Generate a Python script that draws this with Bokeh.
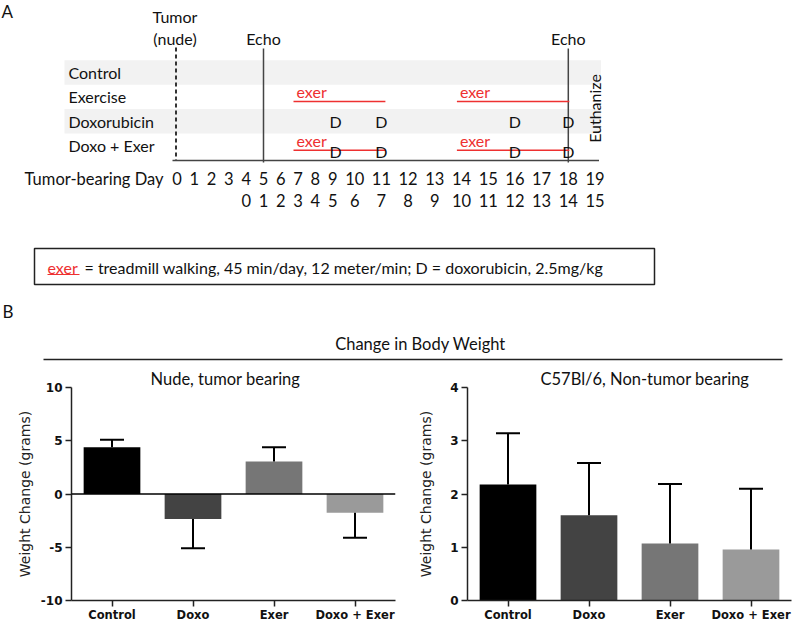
import math
from bokeh.plotting import figure
from bokeh.models import Range1d, Span, FactorRange, FixedTicker
from bokeh.layouts import column, row
from bokeh.embed import file_html
from bokeh.resources import INLINE
from bokeh.core.properties import value

# ---------------- data ----------------
groups = ["Control", "Exercise", "Doxorubicin", "Doxo + Exer"]
group_exer = [False, True, False, True]
group_doxo = [False, False, True, True]
tumor_days = list(range(0, 20))
treat_offset = 4                      # treatment day 0 = tumor-bearing day 4
treat_days = list(range(0, 16))
tumor_inject_day = 0
echo_days = [5, 18]
exer_periods = [(7, 11), (14, 18)]
doxo_days = [9, 11, 16, 18]
euthanize_day = 19
legend_text = "= treadmill walking, 45 min/day, 12 meter/min; D = doxorubicin, 2.5mg/kg"

bar_groups = ["Control", "Doxo", "Exer", "Doxo + Exer"]
nude_mean = [4.40, -2.35, 3.05, -1.75]
nude_err = [0.70, 2.75, 1.35, 2.35]
c57_mean = [2.18, 1.60, 1.07, 0.96]
c57_err = [0.96, 0.98, 1.12, 1.14]
nude_ticks = [-10, -5, 0, 5, 10]
c57_ticks = [0, 1, 2, 3, 4]

# ---------------- styles ----------------
FONT = value("Lato")
AX_FONT = "DejaVu Sans"
RED = "#ee3030"
BAR_COLORS = ["#000000", "#434343", "#767676", "#9a9a9a"]
BAND = "#f2f2f2"

# layout of the schematic (text-width based spacing of the day labels)
X0, CW, GAP = 176.5, 9.4, 7.9
ROW0, ROW_H = 72.0, 24.4
BASE_Y = 160.0
TOP_H = 368


def day_positions(days):
    xs = [X0]
    for a, b in zip(days[:-1], days[1:]):
        xs.append(xs[-1] + (len(str(a)) + len(str(b))) * CW / 2 + GAP)
    return dict(zip(days, xs))


DX = day_positions(tumor_days)
row_y = [ROW0 + i * ROW_H for i in range(len(groups))]

# ---------------- panel A (schematic) ----------------
top = figure(width=800, height=TOP_H, x_range=Range1d(0, 800), y_range=Range1d(TOP_H, 0),
             output_backend="svg", toolbar_location=None, x_axis_type=None, y_axis_type=None,
             min_border=0, min_border_left=0, min_border_right=0, min_border_top=0,
             min_border_bottom=0)
top.grid.visible = False
top.outline_line_color = None


def txt(fig, xs, ys, texts, size="16px", align="left", base="middle", color="#111111",
        angle=0, font=FONT, style="normal"):
    fig.text(x=xs, y=ys, text=texts, text_font=font, text_font_size=size,
             text_align=align, text_baseline=base, text_color=color, angle=angle,
             text_font_style=style)


# shaded bands (alternate rows)
band_rows = [y for i, y in enumerate(row_y) if i % 2 == 0]
top.quad(left=[64] * len(band_rows), right=[DX[euthanize_day] + 6] * len(band_rows),
         top=[y - ROW_H / 2 for y in band_rows], bottom=[y + ROW_H / 2 for y in band_rows],
         fill_color=BAND, line_color=None)

# panel letter
txt(top, [1], [0], ["A"], size="17px", base="top")

# row labels
txt(top, [68] * len(groups), row_y, groups)

# tumor injection (dashed) line and label
tx = DX[tumor_inject_day] - 1
top.segment(x0=[tx], y0=[47], x1=[tx], y1=[BASE_Y], line_color="#333333", line_width=2,
            line_dash="4 3")
txt(top, [tx - 1, tx - 1], [16, 38], ["Tumor", "(nude)"], align="center")

# echo lines
ex = [DX[d] for d in echo_days]
top.segment(x0=ex, y0=[48] * len(ex), x1=ex, y1=[BASE_Y + 2] * len(ex),
            line_color="#444444", line_width=1.5)
txt(top, ex, [38] * len(ex), ["Echo"] * len(ex), align="center")

# baseline
top.segment(x0=[172], y0=[BASE_Y], x1=[DX[euthanize_day] + 4], y1=[BASE_Y],
            line_color="#444444", line_width=1.5)

# exercise periods and doxorubicin doses
for gi, g in enumerate(groups):
    if group_exer[gi]:
        y = row_y[gi]
        x0s = [DX[a] - 4.6 for a, b in exer_periods]
        x1s = [DX[b] + (4 if b != euthanize_day - 1 else 1) for a, b in exer_periods]
        top.segment(x0=x0s, y0=[y + 4.5] * len(x0s), x1=x1s, y1=[y + 4.5] * len(x0s),
                    line_color=RED, line_width=1.5)
        txt(top, [DX[a] - 1.6 for a, b in exer_periods], [y - 5] * len(x0s),
            ["exer"] * len(x0s), color=RED)
    if group_doxo[gi]:
        y = row_y[gi] + (6 if group_exer[gi] else 0.5)
        dxs = [DX[d] + (3 if d == doxo_days[0] else 0) for d in doxo_days]
        txt(top, dxs, [y] * len(dxs), ["D"] * len(dxs), align="center")

# day labels
txt(top, [163], [178], ["Tumor-bearing Day"], align="right", size="16.5px")
txt(top, [DX[d] for d in tumor_days], [178] * len(tumor_days),
    [str(d) for d in tumor_days], align="center", size="16.5px")
txt(top, [DX[d + treat_offset] for d in treat_days], [200] * len(treat_days),
    [str(d) for d in treat_days], align="center", size="16.5px")

# euthanize
txt(top, [DX[euthanize_day] - 1], [108], ["Euthanize"], align="center", angle=math.pi / 2)

# legend box
top.quad(left=[34], right=[654], top=[248], bottom=[284], fill_color=None,
         line_color="#222222", line_width=1.5)
txt(top, [47], [267], ["exer"], color=RED)
top.segment(x0=[47], y0=[274], x1=[79], y1=[274], line_color=RED, line_width=1)
txt(top, [84], [267], [legend_text])

# panel B header
txt(top, [2], [311], ["B"], size="17px")
txt(top, [420], [343], ["Change in Body Weight"], align="center", size="16.5px")
top.segment(x0=[43], y0=[359], x1=[782], y1=[359], line_color="#222222", line_width=1.5)


# ---------------- panel B (bar charts) ----------------
def bar_fig(means, errs, yr, ticks, title, bl, br, toff, lab_standoff, zero_line):
    p = figure(x_range=FactorRange(factors=bar_groups, range_padding=0),
               y_range=Range1d(*yr), width=400, height=624 - TOP_H, output_backend="svg",
               toolbar_location=None, min_border_left=bl, min_border_right=br,
               min_border_top=19, min_border_bottom=20)
    p.title.text = title
    p.title.align = "left"
    p.title.offset = toff
    p.title.standoff = -3
    p.title.text_font = "Lato"
    p.title.text_font_size = "16.5px"
    p.title.text_font_style = "normal"
    p.title.text_color = "#111111"
    p.grid.visible = False
    p.outline_line_color = None

    p.vbar(x=bar_groups, top=means, bottom=0, width=0.7, fill_color=BAR_COLORS,
           line_color=None)
    ends = [m + e if m >= 0 else m - e for m, e in zip(means, errs)]
    p.segment(x0=bar_groups, y0=means, x1=bar_groups, y1=ends, line_color="black",
              line_width=2)
    p.scatter(x=bar_groups, y=ends, marker="dash", size=24, line_color="black",
              line_width=2)
    if zero_line:
        p.add_layout(Span(location=0, dimension="width", line_color="black",
                          line_width=1.5))

    for ax in (p.xaxis[0], p.yaxis[0]):
        ax.axis_line_width = 1.5
        ax.axis_line_color = "#222222"
        ax.major_tick_line_width = 1.5
        ax.major_tick_line_color = "#222222"
        ax.major_tick_out = 6
        ax.major_tick_in = 0
        ax.minor_tick_line_color = None
        ax.major_label_text_font = AX_FONT
        ax.major_label_text_font_style = "bold"
        ax.major_label_text_color = "#111111"
    p.xaxis.major_label_text_font_size = "11.5px"
    p.xaxis.major_label_standoff = 1
    p.yaxis.major_label_text_font_size = "12px"
    p.yaxis.major_label_standoff = 3
    p.yaxis.ticker = FixedTicker(ticks=ticks)
    p.yaxis.major_label_overrides = {t: str(t) for t in ticks}
    p.yaxis.axis_label = "Weight Change (grams)"
    p.yaxis.axis_label_text_font = AX_FONT
    p.yaxis.axis_label_text_font_size = "14px"
    p.yaxis.axis_label_text_font_style = "normal"
    p.yaxis.axis_label_text_color = "#222222"
    p.yaxis.axis_label_standoff = lab_standoff
    return p


left = bar_fig(nude_mean, nude_err, (-10, 10), nude_ticks, "Nude, tumor bearing",
               71, 5, 79, 5, True)
right = bar_fig(c57_mean, c57_err, (0, 4), c57_ticks, "C57Bl/6, Non-tumor bearing",
                67, 9, 73, 13, False)

layout = column(top, row(left, right))
open("out.html", "w").write(file_html(layout, INLINE))
